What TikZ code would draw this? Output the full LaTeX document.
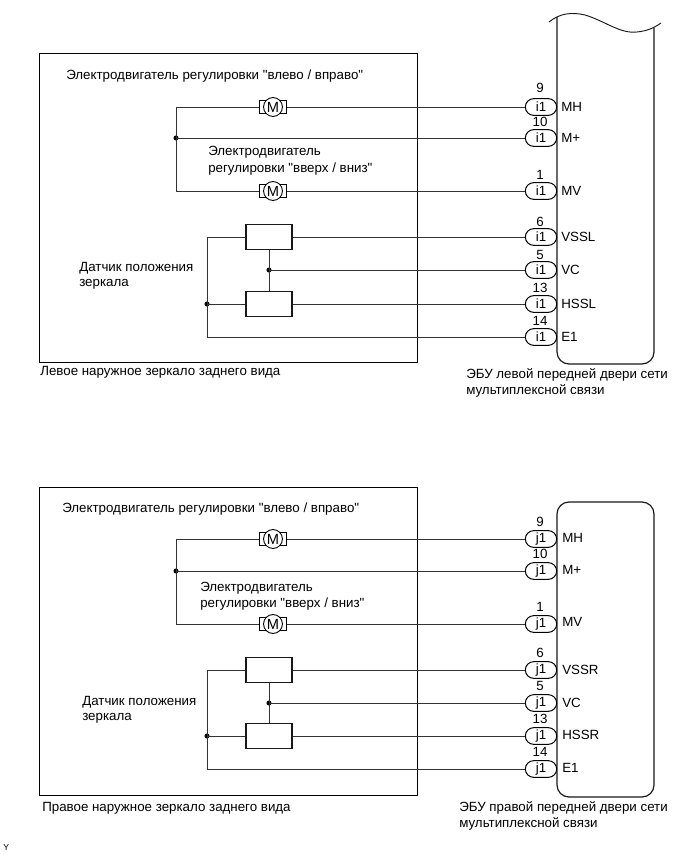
\documentclass[tikz,border=0pt]{standalone}
\usepackage{fontspec}
\setmainfont{Liberation Sans}[Ligatures=TeXOff]
\usetikzlibrary{shapes.misc}
\tikzset{
  x=0.75pt,y=-0.75pt,
  wire/.style={line width=0.55pt,draw=black!80},
  frame/.style={line width=0.6pt,draw=black},
  ecu/.style={line width=0.9pt,draw=black!90},
  lbl/.style={font=\fontsize{10pt}{12pt}\selectfont,anchor=west,inner sep=0pt,align=left},
  pinno/.style={font=\fontsize{10pt}{12pt}\selectfont,inner sep=0pt},
  pin/.style={draw=black,line width=0.75pt,fill=white,rounded rectangle,minimum width=23.5pt,minimum height=12.5pt,inner sep=0pt,font=\fontsize{10pt}{12pt}\selectfont},
  sensor/.style={draw=black!90,line width=0.8pt,fill=white,minimum width=34.5pt,minimum height=19pt,inner sep=0pt},
  motorbase/.style={draw=black,line width=0.8pt,fill=white,minimum width=20pt,minimum height=9.5pt,inner sep=0pt},
  motorm/.style={draw=black,line width=0.7pt,fill=white,circle,minimum size=14.2pt,inner sep=0pt,font=\fontsize{11pt}{11pt}\selectfont},
  dot/.style={fill=black,circle,minimum size=3.8pt,inner sep=0pt},
}
\begin{document}
\begin{tikzpicture}
\useasboundingbox (0,0) rectangle (690,855);
% --- upper panel
\draw[frame] (39,53) rectangle (417,362);
\draw[ecu,rounded corners=9pt] (557,17) -- (557,364) -- (654,364) -- (654,28);
\draw[ecu,line width=0.7pt] (549,22) .. controls (560,13) and (572,12) .. (585,15) .. controls (605,21) and (620,34) .. (637,32) .. controls (647,31) and (654,28) .. (661,23);
\node[pin] (a1) at (541,107) {i1};
\node[pin] (a2) at (541,138) {i1};
\node[pin] (a3) at (541,191) {i1};
\node[pin] (a4) at (541,237) {i1};
\node[pin] (a5) at (541,270) {i1};
\node[pin] (a6) at (541,304) {i1};
\node[pin] (a7) at (541,337) {i1};
\foreach \y/\t in {88/9,122/10,175/1,222/6,255/5,288/13,321/14}{\node[pinno] at (540,\y) {\t};}
\foreach \y/\t in {107/MH,138/M+,191/MV,237/VSSL,270/VC,304/HSSL,337/E1}{\node[lbl] at (561,\y) {\t};}
\node[motorbase] (am1) at (273,107) {};
\node[motorm] at (am1) {M};
\node[motorbase] (am2) at (273,191) {};
\node[motorm] at (am2) {M};
\node[sensor] (as1) at (269,237) {};
\node[sensor] (as2) at (269,304) {};
\node[dot] (ad1) at (176,138) {};
\node[dot] (ad2) at (269,270) {};
\node[dot] (ad3) at (207,304) {};
\draw[wire] (am1.east) -- (a1.west);
\draw[wire] (am1.west) -| (ad1.center);
\draw[wire] (am2.west) -| (ad1.center);
\draw[wire] (ad1.center) -- (a2.west);
\draw[wire] (am2.east) -- (a3.west);
\draw[wire] (as1.east) -- (a4.west);
\draw[wire] (as2.east) -- (a6.west);
\draw[wire] (as1.south) -- (as2.north);
\draw[wire] (ad2.center) -- (a5.west);
\draw[wire] (as1.west) -| (ad3.center);
\draw[wire] (as2.west) -- (ad3.center);
\draw[wire] (ad3.center) |- (a7.west);
\node[lbl] at (66,76) {Электродвигатель регулировки "влево / вправо"};
\node[lbl] at (208,152) {Электродвигатель};
\node[lbl] at (208,169) {регулировки "вверх / вниз"};
\node[lbl] at (79,268) {Датчик положения};
\node[lbl] at (79,284) {зеркала};
\node[lbl] at (40,372) {Левое наружное зеркало заднего вида};
\node[lbl] at (466,375) {ЭБУ левой передней двери сети};
\node[lbl] at (466,391) {мультиплексной связи};
% --- lower panel
\draw[frame] (39,487) rectangle (417,795);
\draw[ecu,rounded corners=9pt] (557,600) -- (557,502) -- (654,502) -- (654,797) -- (557,797) -- cycle;
\node[pin] (b1) at (541,539) {j1};
\node[pin] (b2) at (541,571) {j1};
\node[pin] (b3) at (541,624) {j1};
\node[pin] (b4) at (541,670) {j1};
\node[pin] (b5) at (541,703) {j1};
\node[pin] (b6) at (541,736) {j1};
\node[pin] (b7) at (541,769) {j1};
\foreach \y/\t in {522/9,554/10,607/1,653/6,686/5,719/13,752/14}{\node[pinno] at (540,\y) {\t};}
\foreach \y/\t in {538/MH,570/M+,622/MV,670/VSSR,703/VC,735/HSSR,768/E1}{\node[lbl] at (562,\y) {\t};}
\node[motorbase] (bm1) at (273,539) {};
\node[motorm] at (bm1) {M};
\node[motorbase] (bm2) at (273,624) {};
\node[motorm] at (bm2) {M};
\node[sensor] (bs1) at (269,670) {};
\node[sensor] (bs2) at (269,736) {};
\node[dot] (bd1) at (176,571) {};
\node[dot] (bd2) at (269,703) {};
\node[dot] (bd3) at (207,736) {};
\draw[wire] (bm1.east) -- (b1.west);
\draw[wire] (bm1.west) -| (bd1.center);
\draw[wire] (bm2.west) -| (bd1.center);
\draw[wire] (bd1.center) -- (b2.west);
\draw[wire] (bm2.east) -- (b3.west);
\draw[wire] (bs1.east) -- (b4.west);
\draw[wire] (bs2.east) -- (b6.west);
\draw[wire] (bs1.south) -- (bs2.north);
\draw[wire] (bd2.center) -- (b5.west);
\draw[wire] (bs1.west) -| (bd3.center);
\draw[wire] (bs2.west) -- (bd3.center);
\draw[wire] (bd3.center) |- (b7.west);
\node[lbl] at (62,509) {Электродвигатель регулировки "влево / вправо"};
\node[lbl] at (200,588) {Электродвигатель};
\node[lbl] at (200,604) {регулировки "вверх / вниз"};
\node[lbl] at (82,702) {Датчик положения};
\node[lbl] at (82,718) {зеркала};
\node[lbl] at (42,808) {Правое наружное зеркало заднего вида};
\node[lbl] at (459,808) {ЭБУ правой передней двери сети};
\node[lbl] at (459,824) {мультиплексной связи};
\node[lbl,font=\fontsize{6.5pt}{8pt}\selectfont] at (3,848) {Y};
\end{tikzpicture}
\end{document}
